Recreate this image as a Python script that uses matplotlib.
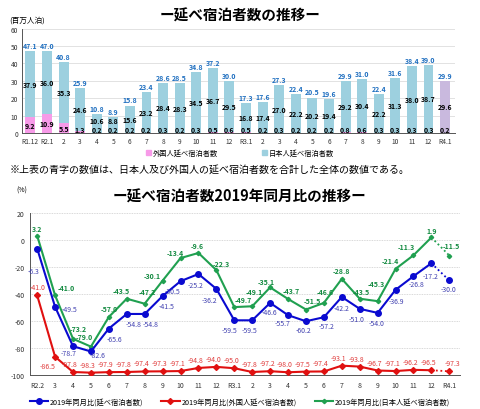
import numpy as np
import matplotlib
matplotlib.use("Agg")
import matplotlib.pyplot as plt

plt.rcParams['font.family'] = ['Noto Sans CJK JP', 'DejaVu Sans']
plt.rcParams['axes.unicode_minus'] = False

# ---- top chart data ----
months_top = ["R1.12", "R2.1", "2", "3", "4", "5", "6", "7", "8", "9", "10", "11", "12",
              "R3.1", "2", "3", "4", "5", "6", "7", "8", "9", "10", "11", "12", "R4.1"]
total = [47.1, 47.0, 40.8, 25.9, 10.8, 8.9, 15.8, 23.4, 28.6, 28.5, 34.8, 37.2, 30.0,
         17.3, 17.6, 27.3, 22.4, 20.5, 19.6, 29.9, 31.0, 22.4, 31.6, 38.4, 39.0, 29.9]
japanese = [37.9, 36.0, 35.3, 24.6, 10.6, 8.8, 15.6, 23.2, 28.4, 28.3, 34.5, 36.7, 29.5,
            16.8, 17.4, 27.0, 22.2, 20.2, 19.4, 29.2, 30.4, 22.2, 31.3, 38.0, 38.7, 29.6]
foreign = [9.2, 10.9, 5.5, 1.3, 0.2, 0.2, 0.2, 0.2, 0.3, 0.2, 0.3, 0.5, 0.6,
           0.5, 0.2, 0.3, 0.2, 0.2, 0.2, 0.8, 0.6, 0.3, 0.3, 0.3, 0.3, 0.2]

# ---- bottom chart data ----
months_bot = ["R2.2", "3", "4", "5", "6", "7", "8", "9", "10", "11", "12",
              "R3.1", "2", "3", "4", "5", "6", "7", "8", "9", "10", "11", "12", "R4.1"]
yoy_total = [-6.3, -49.5, -78.7, -82.6, -65.6, -54.8, -54.8, -41.5, -30.5, -25.2, -36.2,
             -59.5, -59.5, -46.6, -55.7, -60.2, -57.2, -42.2, -51.0, -54.0, -36.9, -26.8, -17.2, -30.0]
yoy_foreign = [-41.0, -86.5, -97.8, -98.3, -97.9, -97.8, -97.4, -97.3, -97.1, -94.8, -94.0,
               -95.0, -97.8, -97.2, -98.0, -97.5, -97.4, -93.1, -93.8, -96.7, -97.1, -96.2, -96.5, -97.3]
yoy_japanese = [3.2, -41.0, -73.2, -79.0, -57.0, -43.5, -47.2, -30.1, -13.4, -9.6, -22.3,
                -49.7, -49.1, -35.1, -43.7, -51.5, -46.6, -28.8, -43.5, -45.3, -21.4, -11.3, 1.9, -11.5]

# label offsets in pixels (dx, dy up)
off_total = [(-4, -22), (14, -2), (-4, -7), (7, -4), (6, -10), (7, -10), (6, -10), (4, -10),
             (-8, -10), (-3, -11), (-7, -11), (-5, -10), (-3, -10), (-1, -9), (-5, -8),
             (-2, -9), (3, -9), (0, -11), (-3, -10), (-1, -10), (1, -11), (3, -8), (-1, -13),
             (-1, -9)]
off_foreign = [(0, 8), (-7, -9)] + [(-3, 8)] * 21 + [(3, 8)]
off_japanese = [(0, 7), (11, 8), (5, 10), (-7, 10), (0, 8), (-6, 8), (3, 12), (-10, 5),
                (-5, 6), (-1, 7), (5, 7), (9, 8), (2, 15), (-4, 6), (3, 8), (6, 9), (1, 11),
                (0, 8), (1, 7), (-1, 18), (-5, 8), (-7, 9), (0, 7), (2, 10)]

c_jp = "#9dd0df"
c_fr = "#f79ae8"
c_last = "#c9b9de"

fig = plt.figure(figsize=(4.8, 4.1), dpi=100)

# ================= top chart =================
ax1 = fig.add_axes([0.046, 0.673, 0.902, 0.255])
x = np.arange(len(months_top))
cols_f = [c_fr] * (len(x) - 1) + [c_last]
cols_j = [c_jp] * (len(x) - 1) + [c_last]
ax1.bar(x, foreign, width=0.6, color=cols_f, zorder=2)
ax1.bar(x, japanese, width=0.6, bottom=foreign, color=cols_j, zorder=2)

for i in range(len(x)):
    ax1.text(x[i], total[i] + 1.2, f"{total[i]:.1f}", ha="center", va="bottom",
             fontsize=5, color="#1f6fc0", fontweight="bold")
    yj = max(foreign[i] + japanese[i] / 2, 7.5)
    ax1.text(x[i], yj, f"{japanese[i]:.1f}", ha="center", va="center",
             fontsize=5, color="black", fontweight="bold")
    yf = max(foreign[i] / 2, 2.2)
    ax1.text(x[i], yf, f"{foreign[i]:.1f}", ha="center", va="center",
             fontsize=5, color="black", fontweight="bold")

ax1.set_xlim(-0.5, 25.6)
ax1.set_ylim(0, 60)
ax1.set_yticks(range(0, 61, 10))
ax1.set_xticks(x)
ax1.set_xticklabels(months_top)
ax1.tick_params(labelsize=4.8, length=0, pad=3, colors="#333333")
ax1.grid(axis="y", color="#dddddd", linewidth=0.6, zorder=0)
for s in ["top", "right"]:
    ax1.spines[s].set_visible(False)
for s in ["left", "bottom"]:
    ax1.spines[s].set_color("#555555")
    ax1.spines[s].set_linewidth(0.7)

fig.text(0.5, 0.963, "ー延べ宿泊者数の推移ー", ha="center", va="center",
         fontsize=10.5, fontweight="bold")
fig.text(0.02, 0.949, "(百万人泊)", ha="left", va="center", fontsize=5.5)

h1 = plt.Rectangle((0, 0), 1, 1, color=c_fr)
h2 = plt.Rectangle((0, 0), 1, 1, color=c_jp)
fig.legend([h1, h2], ["外国人延べ宿泊者数", "日本人延べ宿泊者数"], loc="center",
           bbox_to_anchor=(0.5, 0.624), ncol=2, frameon=False, fontsize=5.2,
           handlelength=0.7, handleheight=0.7, columnspacing=6, handletextpad=0.3)

fig.text(0.02, 0.585, "※上表の青字の数値は、日本人及び外国人の延べ宿泊者数を合計した全体の数値である。",
         ha="left", va="center", fontsize=7.2)

# ================= bottom chart =================
ax2 = fig.add_axes([0.0625, 0.083, 0.896, 0.395])
xb = np.arange(len(months_bot))
c_b, c_r, c_g = "#0a0ad0", "#e01010", "#20a050"

series = [
    (yoy_foreign, c_r, "D", 3.0, "2019年同月比(外国人延べ宿泊者数)"),
    (yoy_japanese, c_g, "D", 2.2, "2019年同月比(日本人延べ宿泊者数)"),
    (yoy_total, c_b, "o", 4.0, "2019年同月比(延べ宿泊者数)"),
]
handles = {}
for vals, col, mk, ms, lab in series:
    ln, = ax2.plot(xb[:-1], vals[:-1], color=col, linewidth=1.5, marker=mk,
                   markersize=ms, zorder=3)
    ax2.plot(xb[-2:], vals[-2:], color=col, linewidth=1.3, linestyle=(0, (1, 1.5)),
             zorder=3)
    ax2.plot(xb[-1:], vals[-1:], color=col, marker=mk, markersize=ms, linestyle="none",
             zorder=3)
    handles[lab] = ln

px = 0.72  # pixels -> points at dpi 100
for i in range(len(xb)):
    dx, dy = off_total[i]
    ax2.annotate(f"{yoy_total[i]:.1f}", (xb[i], yoy_total[i]), xytext=(dx * px, dy * px),
                 textcoords="offset points", ha="center", va="center", fontsize=5,
                 color="#4040b0", style="italic")
    dx, dy = off_foreign[i]
    ax2.annotate(f"{yoy_foreign[i]:.1f}", (xb[i], yoy_foreign[i]), xytext=(dx * px, dy * px),
                 textcoords="offset points", ha="center", va="center", fontsize=5,
                 color="#e03a3a", style="italic")
    dx, dy = off_japanese[i]
    ax2.annotate(f"{yoy_japanese[i]:.1f}", (xb[i], yoy_japanese[i]), xytext=(dx * px, dy * px),
                 textcoords="offset points", ha="center", va="center", fontsize=5,
                 color="#138a40", fontweight="bold")

ax2.set_xlim(-0.4, 23.6)
ax2.set_ylim(-100, 20)
ax2.set_yticks(range(-100, 21, 20))
ax2.set_xticks(xb)
ax2.set_xticklabels(months_bot)
ax2.tick_params(labelsize=5, length=0, pad=4, colors="#333333")
ax2.grid(axis="y", color="#cccccc", linewidth=0.6, linestyle=(0, (1, 1)), zorder=0)
for s in ["top", "right"]:
    ax2.spines[s].set_visible(False)
for s in ["left", "bottom"]:
    ax2.spines[s].set_color("#555555")
    ax2.spines[s].set_linewidth(0.7)

fig.text(0.5, 0.52, "ー延べ宿泊者数2019年同月比の推移ー", ha="center", va="center",
         fontsize=10.5, fontweight="bold")
fig.text(0.035, 0.535, "(%)", ha="left", va="center", fontsize=5)

order = ["2019年同月比(延べ宿泊者数)", "2019年同月比(外国人延べ宿泊者数)",
         "2019年同月比(日本人延べ宿泊者数)"]
fig.legend([handles[k] for k in order], order, loc="center",
           bbox_to_anchor=(0.5, 0.018), ncol=3, frameon=False, fontsize=5.2,
           handlelength=2.5, columnspacing=2.5, handletextpad=0.3)

fig.savefig("out.png", dpi=100)
